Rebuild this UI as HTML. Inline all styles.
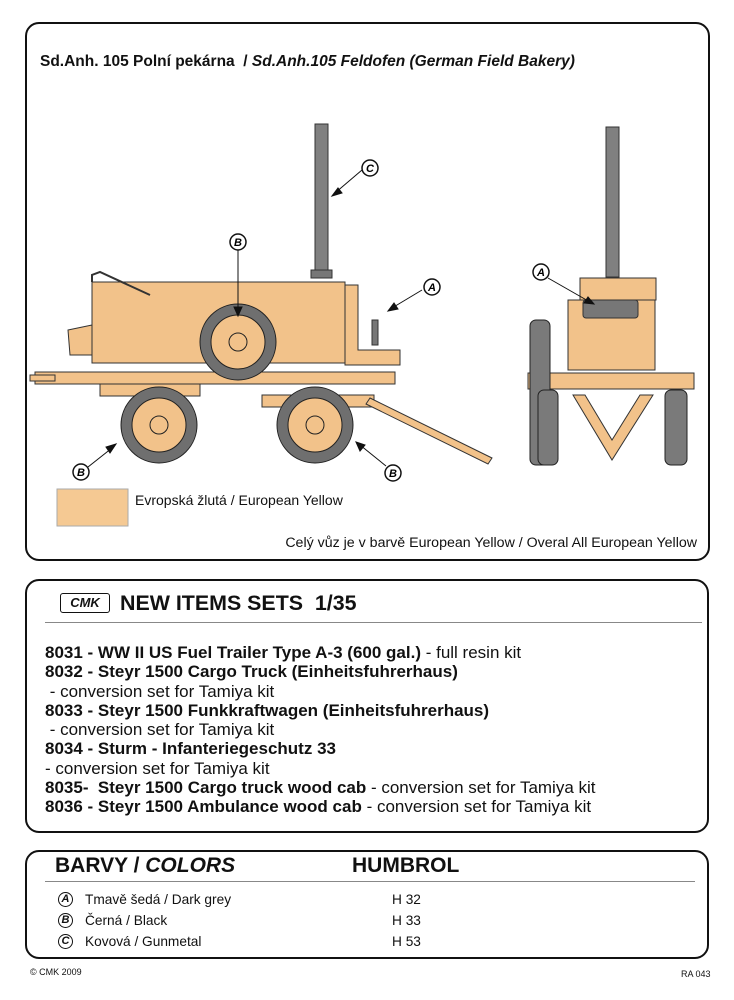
<!DOCTYPE html>
<html><head><meta charset="utf-8"><style>
body{margin:0;background:#fff;width:734px;height:1000px;position:relative;font-family:"Liberation Sans",sans-serif;color:#111;overflow:hidden}
.p{position:absolute;border:2px solid #111;border-radius:14px;box-sizing:border-box}
.t{position:absolute;white-space:nowrap}
.it{font-size:17px;line-height:19.3px;font-weight:bold}
.it span{font-weight:normal}
.c{display:inline-block;width:15px;height:15px;border:1.5px solid #111;border-radius:50%;font:italic bold 11px "Liberation Sans";text-align:center;line-height:13px;box-sizing:border-box;position:absolute}
</style></head><body>
<div class="p" style="left:25px;top:22px;width:685px;height:539px"></div>
<div class="t" style="left:40px;top:53px;font-size:15.5px;font-weight:bold">Sd.Anh. 105 Polní pekárna &nbsp;/ <i>Sd.Anh.105 Feldofen (German Field Bakery)</i></div>
<svg style="position:absolute;left:0;top:0" width="734" height="560">
<g stroke="#333" stroke-width="1">
<rect x="315" y="124" width="13" height="150" fill="#808080"/>
<rect x="311" y="270" width="21" height="8" fill="#777"/>
<path d="M92 282 H345 V363 H92 Z" fill="#F2C28A"/>
<path d="M68 330 L92 325 V355 L70 355 Z" fill="#F2C28A"/>
<path d="M345 285 H358 V350 H400 V365 H345 Z" fill="#F2C28A"/>
<path d="M92 282 V275 L100 272 L150 295" fill="none" stroke="#333" stroke-width="2"/>
<rect x="35" y="372" width="360" height="12" fill="#F2C28A"/>
<rect x="30" y="375" width="25" height="6" fill="#F2C28A"/>
<rect x="100" y="384" width="100" height="12" fill="#F2C28A"/>
<rect x="262" y="395" width="112" height="12" fill="#F2C28A"/>
<path d="M370 398 L492 458 L488 464 L366 404 Z" fill="#F2C28A"/>
<rect x="372" y="320" width="6" height="25" fill="#777"/>
<rect x="580" y="278" width="76" height="22" fill="#F2C28A"/>
<rect x="568" y="300" width="87" height="70" fill="#F2C28A"/>
<rect x="583" y="300" width="55" height="18" rx="3" fill="#777"/>
<rect x="606" y="127" width="13" height="150" fill="#808080"/>
<rect x="528" y="373" width="166" height="16" fill="#F2C28A"/>
<path d="M573 395 L612 460 L653 395 L640 395 L612 440 L585 395Z" fill="#F2C28A"/>
</g>
<g fill="#7a7a7a" stroke="#222">
<rect x="530" y="320" width="20" height="145" rx="6"/>
<rect x="538" y="390" width="20" height="75" rx="6"/>
<rect x="665" y="390" width="22" height="75" rx="6"/>
</g>
<g stroke="#222">
<circle cx="238" cy="342" r="38" fill="#6f6f6f"/><circle cx="238" cy="342" r="27" fill="#F2C28A"/><circle cx="238" cy="342" r="9" fill="#F2C28A"/>
<circle cx="159" cy="425" r="38" fill="#6f6f6f"/><circle cx="159" cy="425" r="27" fill="#F2C28A"/><circle cx="159" cy="425" r="9" fill="#F2C28A"/>
<circle cx="315" cy="425" r="38" fill="#6f6f6f"/><circle cx="315" cy="425" r="27" fill="#F2C28A"/><circle cx="315" cy="425" r="9" fill="#F2C28A"/>
</g>
<g stroke="#111" stroke-width="1" fill="#111">
<line x1="362" y1="170" x2="335" y2="193"/><path d="M332 196 l10 -3 l-4 -5z"/>
<line x1="238" y1="250" x2="238" y2="312"/><path d="M238 316 l-4 -9 h8z"/>
<line x1="422" y1="290" x2="392" y2="308"/><path d="M388 311 l10 -2 l-4 -6z"/>
<line x1="88" y1="467" x2="112" y2="448"/><path d="M116 444 l-10 3 l4 6z"/>
<line x1="386" y1="466" x2="360" y2="445"/><path d="M356 442 l4 9 l5 -6z"/>
<line x1="548" y1="278" x2="590" y2="302"/><path d="M594 304 l-10 -1 l4 -6z"/>
</g>
<g fill="#fff" stroke="#111" stroke-width="1.5">
<circle cx="370" cy="168" r="8"/><circle cx="238" cy="242" r="8"/><circle cx="432" cy="287" r="8"/>
<circle cx="81" cy="472" r="8"/><circle cx="393" cy="473" r="8"/><circle cx="541" cy="272" r="8"/>
</g>
<g font-family="Liberation Sans" font-weight="bold" font-style="italic" font-size="11" text-anchor="middle">
<text x="370" y="172">C</text><text x="238" y="246">B</text><text x="432" y="291">A</text>
<text x="81" y="476">B</text><text x="393" y="477">B</text><text x="541" y="276">A</text>
</g>
<rect x="57" y="489" width="71" height="37" fill="#F5C993" stroke="#aaa"/>
</svg>
<div class="t" style="left:135px;top:492px;font-size:14px">Evropská žlutá / European Yellow</div>
<div class="t" style="right:37px;top:535px;font-size:14.2px">Celý vůz je v barvě European Yellow / Overal All European Yellow</div>

<div class="p" style="left:25px;top:579px;width:684px;height:254px"></div>
<div class="t" style="left:60px;top:593px;width:48px;height:18px;border:1.5px solid #111;border-radius:3px;font:bold italic 13px 'Liberation Sans';text-align:center;line-height:18px">CMK</div>
<div class="t" style="left:120px;top:591px;font-size:21.4px;font-weight:bold">NEW ITEMS SETS &nbsp;1/35</div>
<div style="position:absolute;left:45px;top:622px;width:657px;height:1px;background:#888"></div>
<div class="t it" style="left:45px;top:643px">8031 - WW II US Fuel Trailer Type A-3 (600 gal.) <span>- full resin kit</span><br>8032 - Steyr 1500 Cargo Truck (Einheitsfuhrerhaus)<br><span>&nbsp;- conversion set for Tamiya kit</span><br>8033 - Steyr 1500 Funkkraftwagen (Einheitsfuhrerhaus)<br><span>&nbsp;- conversion set for Tamiya kit</span><br>8034 - Sturm - Infanteriegeschutz 33<br><span>- conversion set for Tamiya kit</span><br>8035- &nbsp;Steyr 1500 Cargo truck wood cab <span>- conversion set for Tamiya kit</span><br>8036 - Steyr 1500 Ambulance wood cab <span>- conversion set for Tamiya kit</span></div>

<div class="p" style="left:25px;top:850px;width:684px;height:109px"></div>
<div class="t" style="left:55px;top:854px;font-size:21px;font-weight:bold">BARVY / <i>COLORS</i></div>
<div class="t" style="left:352px;top:854px;font-size:21px;font-weight:bold">HUMBROL</div>
<div style="position:absolute;left:45px;top:881px;width:650px;height:1px;background:#888"></div>
<span class="c" style="left:58px;top:892px">A</span><div class="t" style="left:85px;top:892px;font-size:13.7px">Tmavě šedá / Dark grey</div><div class="t" style="left:392px;top:892px;font-size:13.7px">H 32</div>
<span class="c" style="left:58px;top:913px">B</span><div class="t" style="left:85px;top:913px;font-size:13.7px">Černá / Black</div><div class="t" style="left:392px;top:913px;font-size:13.7px">H 33</div>
<span class="c" style="left:58px;top:934px">C</span><div class="t" style="left:85px;top:934px;font-size:13.7px">Kovová / Gunmetal</div><div class="t" style="left:392px;top:934px;font-size:13.7px">H 53</div>
<div class="t" style="left:30px;top:967px;font-size:9px">© CMK 2009</div>
<div class="t" style="left:681px;top:969px;font-size:9px">RA 043</div>
</body></html>
